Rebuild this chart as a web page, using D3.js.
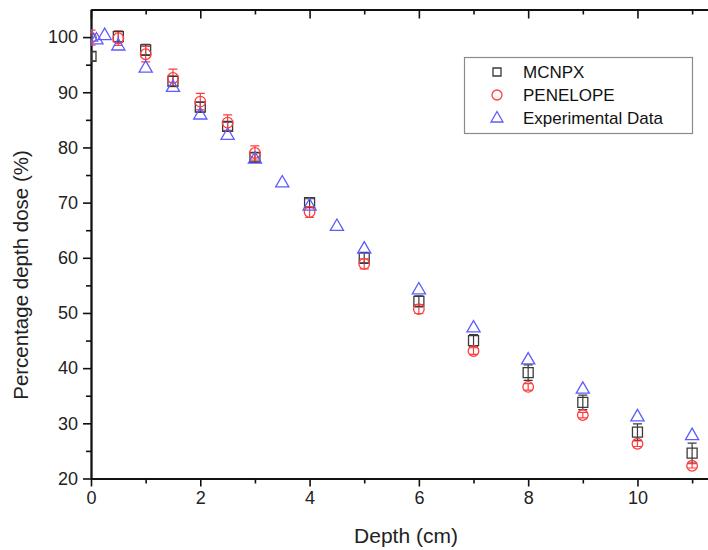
<!DOCTYPE html>
<html>
<head>
<meta charset="utf-8">
<script src="https://cdn.jsdelivr.net/npm/d3@7"></script>
<style>
  html, body { margin: 0; padding: 0; background: #fff; }
  svg { display: block; font-family: "Liberation Sans", Arial, sans-serif; }
</style>
</head>
<body>
<svg id="chart" width="708" height="550"></svg>
<script>
// Depth-dose data (depth in cm, dose in %)
const depthMcnpx = [0, 0.5, 1, 1.5, 2, 2.5, 3, 4, 5, 6, 7, 8, 9, 10, 11];
const doseMcnpx  = [96.5, 100.1, 97.7, 92.0, 87.3, 83.8, 78.2, 70.0, 60.0, 52.1, 45.0, 39.2, 33.8, 28.4, 24.6];
const errMcnpx   = [0.8, 1.0, 1.0, 0.9, 0.9, 0.8, 0.8, 0.7, 1.0, 1.0, 1.1, 1.4, 1.3, 1.5, 1.8];

const depthPenelope = [0, 0.5, 1, 1.5, 2, 2.5, 3, 4, 5, 6, 7, 8, 9, 10, 11];
const dosePenelope  = [99.9, 99.8, 96.9, 92.6, 88.3, 84.5, 79.0, 68.3, 58.9, 50.7, 43.1, 36.6, 31.5, 26.3, 22.3];
const errPenelope   = [1.35, 1.3, 1.4, 1.6, 1.5, 1.4, 1.3, 1.0, 0.9, 0.8, 0.6, 0.6, 0.5, 0.5, 0.4];

const depthExp = [0, 0.1, 0.25, 0.5, 1, 1.5, 2, 2.5, 3, 3.5, 4, 4.5, 5, 6, 7, 8, 9, 10, 11];
const doseExp  = [100.0, 99.5, 100.3, 98.4, 94.4, 90.9, 85.9, 82.2, 77.9, 73.6, 69.4, 65.7, 61.6, 54.2, 47.3, 41.5, 36.2, 31.2, 27.8];

const xMajorTicks = [0, 2, 4, 6, 8, 10];
const xMinorTicks = [1, 3, 5, 7, 9, 11];
const yMajorTicks = [20, 30, 40, 50, 60, 70, 80, 90, 100];
const yMinorTicks = [25, 35, 45, 55, 65, 75, 85, 95];

const seriesNames = ["MCNPX", "PENELOPE", "Experimental Data"];

const colBlack = "#3a3a3a", colRed = "#ff3d3d", colBlue = "#5c5cff";

const svg = d3.select("#chart");
const plotLeft = 91, plotTop = 9.5, plotBottom = 478.5, plotRight = 708.5;

const x = d3.scaleLinear().domain([0, 11.3]).range([plotLeft, plotRight]);
const y = d3.scaleLinear().domain([20, 105]).range([plotBottom, plotTop]);

svg.append("defs").append("clipPath").attr("id", "plotArea")
  .append("rect").attr("x", plotLeft).attr("y", plotTop)
  .attr("width", plotRight - plotLeft).attr("height", plotBottom - plotTop);

// Axes
function styleAxis(g) {
  g.selectAll(".domain").attr("stroke", "#111").attr("stroke-width", 1.8);
  g.selectAll(".tick line").attr("stroke", "#111").attr("stroke-width", 1.6);
  g.selectAll(".tick text").attr("font-size", 18).attr("fill", "#222")
    .attr("font-family", "'Liberation Sans', Arial, sans-serif");
}

svg.append("g").attr("transform", `translate(0,${plotBottom})`)
  .call(d3.axisBottom(x).tickValues(xMajorTicks).tickSize(8).tickSizeOuter(0).tickPadding(5).tickFormat(d3.format("d")))
  .call(styleAxis);
svg.append("g").attr("transform", `translate(0,${plotBottom})`)
  .call(d3.axisBottom(x).tickValues(xMinorTicks).tickSize(5).tickSizeOuter(0).tickFormat(""))
  .call(styleAxis);

svg.append("g").attr("transform", `translate(0,${plotTop})`)
  .call(d3.axisTop(x).tickValues(xMajorTicks).tickSize(-9).tickSizeOuter(0).tickFormat(""))
  .call(styleAxis);
svg.append("g").attr("transform", `translate(0,${plotTop})`)
  .call(d3.axisTop(x).tickValues(xMinorTicks).tickSize(-5).tickSizeOuter(0).tickFormat(""))
  .call(styleAxis);

svg.append("g").attr("transform", `translate(${plotLeft},0)`)
  .call(d3.axisLeft(y).tickValues(yMajorTicks).tickSize(8).tickSizeOuter(0).tickPadding(5).tickFormat(d3.format("d")))
  .call(styleAxis);
svg.append("g").attr("transform", `translate(${plotLeft},0)`)
  .call(d3.axisLeft(y).tickValues(yMinorTicks).tickSize(5).tickSizeOuter(0).tickFormat(""))
  .call(styleAxis);

// Axis titles
svg.append("text").attr("x", 406).attr("y", 543).attr("text-anchor", "middle")
  .attr("font-size", 21).attr("fill", "#222").text("Depth (cm)");
svg.append("text").attr("transform", "translate(28,275) rotate(-90)").attr("text-anchor", "middle")
  .attr("font-size", 20.5).attr("fill", "#222").text("Percentage depth dose (%)");

// Markers
const plot = svg.append("g").attr("clip-path", "url(#plotArea)");

function errorBars(depths, vals, errs, color) {
  const g = plot.append("g").attr("stroke", color).attr("stroke-width", 1.2).attr("fill", "none");
  depths.forEach((d, i) => {
    const cx = x(d), y1 = y(vals[i] + errs[i]), y0 = y(vals[i] - errs[i]);
    g.append("line").attr("x1", cx).attr("x2", cx).attr("y1", y1).attr("y2", y0);
    g.append("line").attr("x1", cx - 4.5).attr("x2", cx + 4.5).attr("y1", y1).attr("y2", y1);
    g.append("line").attr("x1", cx - 4.5).attr("x2", cx + 4.5).attr("y1", y0).attr("y2", y0);
  });
}

errorBars(depthMcnpx, doseMcnpx, errMcnpx, colBlack);
errorBars(depthPenelope, dosePenelope, errPenelope, colRed);

const sq = d3.symbol().type(d3.symbolSquare).size(100);
const circ = d3.symbol().type(d3.symbolCircle).size(Math.PI * 5.3 * 5.3);
const triPath = "M0,-7.3L6.6,4.1L-6.6,4.1Z";

plot.append("g").selectAll("path").data(depthMcnpx).join("path")
  .attr("d", sq()).attr("transform", (d, i) => `translate(${x(d)},${y(doseMcnpx[i])})`)
  .attr("fill", "none").attr("stroke", colBlack).attr("stroke-width", 1.3);

plot.append("g").selectAll("path").data(depthPenelope).join("path")
  .attr("d", circ()).attr("transform", (d, i) => `translate(${x(d)},${y(dosePenelope[i])})`)
  .attr("fill", "none").attr("stroke", colRed).attr("stroke-width", 1.3);

plot.append("g").selectAll("path").data(depthExp).join("path")
  .attr("d", triPath).attr("transform", (d, i) => `translate(${x(d)},${y(doseExp[i])})`)
  .attr("fill", "none").attr("stroke", colBlue).attr("stroke-width", 1.3);

// Legend
const lg = svg.append("g");
lg.append("rect").attr("x", 464.5).attr("y", 57.5).attr("width", 228).attr("height", 76)
  .attr("fill", "#fff").attr("stroke", "#8a8a8a").attr("stroke-width", 1.2);
const rowY = [72, 95, 118];
const legendShapes = [
  g => g.append("path").attr("d", d3.symbol().type(d3.symbolSquare).size(64)()).attr("stroke", colBlack),
  g => g.append("path").attr("d", d3.symbol().type(d3.symbolCircle).size(Math.PI * 5 * 5)()).attr("stroke", colRed),
  g => g.append("path").attr("d", "M0,-6.5L6,4L-6,4Z").attr("stroke", colBlue)
];
seriesNames.forEach((name, i) => {
  const g = lg.append("g").attr("transform", `translate(497,${rowY[i]})`);
  legendShapes[i](g).attr("fill", "none").attr("stroke-width", 1.3);
  lg.append("text").attr("x", 523).attr("y", rowY[i] + 6).attr("font-size", 17)
    .attr("fill", "#111").text(name);
});
</script>
</body>
</html>
